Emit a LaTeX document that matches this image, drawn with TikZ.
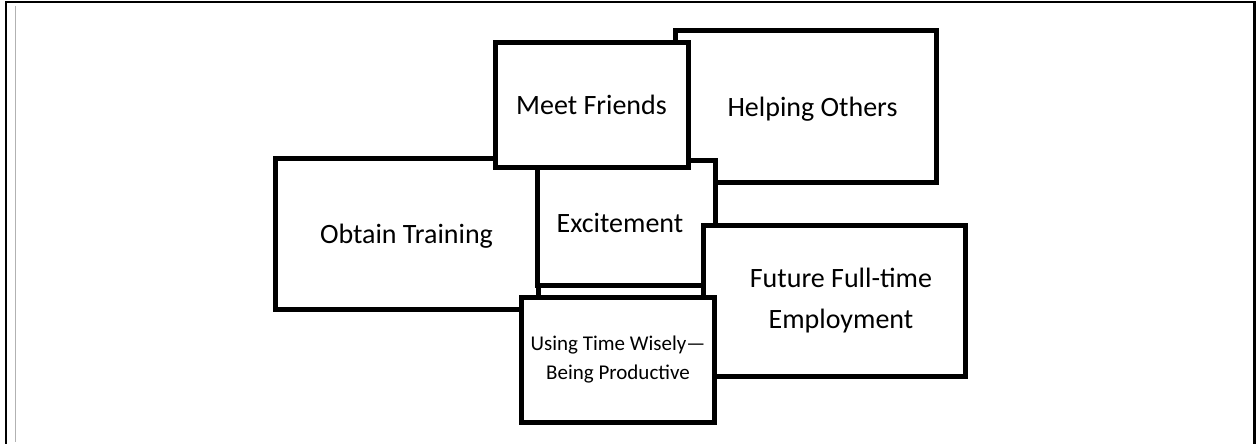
\documentclass[tikz,border=0pt]{standalone}
\usepackage{fontspec}
\setmainfont{Carlito}
\begin{document}
\begin{tikzpicture}[x=1pt,y=-1pt,
  box/.style={draw=black, fill=white, line width=5pt, inner sep=0pt, rectangle,
    font=\fontsize{28}{41}\selectfont, text=black},
  oneline/.style={text height=19.5pt, text depth=0pt},
  smalltext/.style={font=\fontsize{21}{29}\selectfont},
  frameline/.style={line width=2.3pt, black},
  guideline/.style={line width=1pt, black!30}]
\useasboundingbox (0,0) rectangle (1259,444);
\fill[white] (0,0) rectangle (1259,444);
% page frame
\coordinate (fa) at (6,444);
\coordinate (fb) at (6,2.2);
\coordinate (fc) at (1254.5,2.2);
\coordinate (fd) at (1254.5,444);
\draw[frameline] (fa) -- (fb) -- (fc) -- (fd);
\coordinate (ga) at (15.5,6);
\coordinate (gb) at (15.5,441.5);
\draw[guideline] (ga) -- (gb);
% boxes, back to front
\node[box, oneline, minimum width=263pt, minimum height=151pt] (obtain) at (406.5,233.5) {Obtain Training};
\node[box, oneline, minimum width=261pt, minimum height=151pt] (helping) at (805.5,106.5) {\hspace*{14pt}Helping Others};
\node[box, oneline, minimum width=178pt, minimum height=125pt] (excite) at (626.5,223) {Excitement\hspace*{13pt}};
\node[box, oneline, minimum width=193pt, minimum height=124pt] (meet) at (591.5,105) {Meet Friends};
\node[box, align=center, minimum width=262pt, minimum height=151pt] (future) at (834.5,301) {\hspace*{13pt}Future Full-time\\\hspace*{13pt}Employment};
\node[box, smalltext, align=center, minimum width=193pt, minimum height=125pt] (using) at (618,360) {Using Time Wisely—\\Being Productive};
\end{tikzpicture}
\end{document}
